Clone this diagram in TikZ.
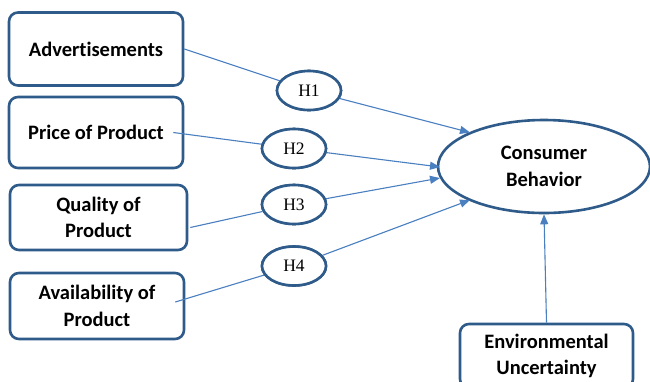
\documentclass[tikz,border=0pt]{standalone}
\usepackage{fontspec}
\setmainfont{Carlito}[Ligatures=CommonOff]
\newfontfamily\hfont{Liberation Serif}
\usetikzlibrary{arrows.meta,calc,shapes.geometric}
\definecolor{boxblue}{HTML}{2F5B8A}
\definecolor{lineblue}{HTML}{4A80C0}
\tikzset{
  varbox/.style={draw=boxblue, line width=2.6pt, rounded corners=9pt, fill=white,
    font=\fontsize{20.5}{26.5}\selectfont\bfseries, align=center, inner sep=0pt},
  hyp/.style={ellipse, draw=boxblue, line width=2.6pt, fill=white,
    minimum width=64pt, minimum height=39pt, inner sep=0pt,
    font=\hfont\fontsize{17.5}{19}\selectfont},
  conn/.style={draw=lineblue, line width=1.1pt},
  arr/.style={conn, -{Triangle[length=10pt,width=8pt]}}
}
\begin{document}
\begin{tikzpicture}[x=1pt,y=-1pt]
\clip (0,0) rectangle (650,381);
\fill[white] (0,0) rectangle (650,381);
% boxes
\node[varbox, minimum width=174pt, minimum height=73pt] (adv) at (96,49) {Advertisements};
\node[varbox, minimum width=174pt, minimum height=71pt] (price) at (96,132.5) {Price of Product};
\node[varbox, minimum width=177pt, minimum height=65pt] (qual) at (98.5,217.5) {Quality of\\Product};
\node[varbox, minimum width=174pt, minimum height=66pt] (avail) at (97,306) {Availability of\\Product};
\node[varbox, minimum width=173pt, minimum height=64pt] (env) at (546.5,356) {Environmental\\Uncertainty};
% hypotheses
\node[hyp] (h1) at (309,90.5) {H1};
\node[hyp] (h2) at (294,148.5) {H2};
\node[hyp] (h3) at (294,204.5) {H3};
\node[hyp] (h4) at (294,266) {H4};
% consumer behavior
\node[ellipse, draw=boxblue, line width=2.6pt, minimum width=212pt, minimum height=93pt,
  inner sep=0pt, align=center, font=\fontsize{20.5}{27}\selectfont\bfseries] (cb) at (544,166.5) {Consumer\\Behavior};
% anchor points
\coordinate (pstart) at ($(price.east)+(-11,0)$);
\coordinate (astart) at ($(avail.east)+(-10,-4)$);
\coordinate (t1) at ($(cb.center)+(-74,-34)$);
\coordinate (t2) at ($(cb.center)+(-104,0.5)$);
\coordinate (t3) at ($(cb.center)+(-104,11.5)$);
\coordinate (t4) at ($(cb.center)+(-74,33.5)$);
% connectors
\draw[conn] (adv.east) -- (h1);
\draw[conn] (pstart) -- (h2);
\draw[conn] ($(qual.east)+(2,10)$) -- (h3);
\draw[conn] (astart) -- (h4);
\draw[arr] (h1) -- (t1);
\draw[arr] (h2) -- (t2);
\draw[arr] (h3) -- (t3);
\draw[arr] (h4) -- (t4);
\draw[arr] (env.north) -- (cb.south);
% redraw hypothesis nodes above lines
\node[hyp] at (h1) {H1};
\node[hyp] at (h2) {H2};
\node[hyp] at (h3) {H3};
\node[hyp] at (h4) {H4};
\end{tikzpicture}
\end{document}
